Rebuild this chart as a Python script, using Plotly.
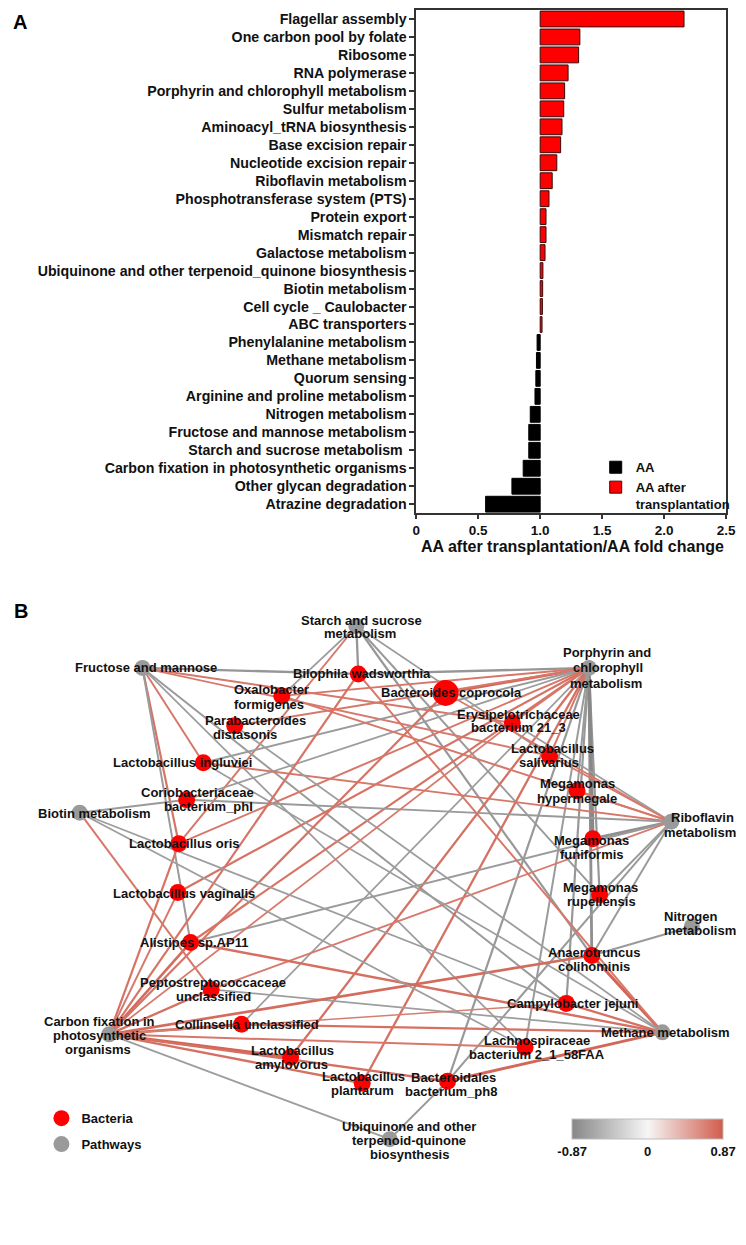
import plotly.graph_objects as go

# ---------------- Panel A data ----------------
categories = [
    "Flagellar assembly", "One carbon pool by folate", "Ribosome", "RNA polymerase",
    "Porphyrin and chlorophyll metabolism", "Sulfur metabolism", "Aminoacyl_tRNA biosynthesis",
    "Base excision repair", "Nucleotide excision repair", "Riboflavin metabolism",
    "Phosphotransferase system (PTS)", "Protein export", "Mismatch repair", "Galactose metabolism",
    "Ubiquinone and other terpenoid_quinone biosynthesis", "Biotin metabolism",
    "Cell cycle _ Caulobacter", "ABC transporters", "Phenylalanine metabolism",
    "Methane metabolism", "Quorum sensing", "Arginine and proline metabolism",
    "Nitrogen metabolism", "Fructose and mannose metabolism",
    "Starch and sucrose metabolism\u00a0", "Carbon fixation in photosynthetic organisms",
    "Other glycan degradation", "Atrazine degradation",
]
fold_change = [2.16, 1.32, 1.31, 1.225, 1.197, 1.19, 1.176, 1.165, 1.134, 1.097, 1.071,
               1.047, 1.047, 1.039, 1.022, 1.02, 1.018, 1.015, 0.975, 0.97, 0.965, 0.958,
               0.92, 0.908, 0.908, 0.863, 0.772, 0.56]
x_tickvals = [0, 0.5, 1.0, 1.5, 2.0, 2.5]
x_ticktext = ["0", "0.5", "1.0", "1.5", "2.0", "2.5"]

# ---------------- Panel B data ----------------
pathway_names = {
    "starch": "Starch and sucrose metabolism", "fruct": "Fructose and mannose",
    "porph": "Porphyrin and chlorophyll metabolism", "biotin": "Biotin metabolism",
    "ribo": "Riboflavin metabolism", "nitro": "Nitrogen metabolism",
    "carbon": "Carbon fixation in photosynthetic organisms", "methane": "Methane metabolism",
    "ubiq": "Ubiquinone and other terpenoid-quinone biosynthesis",
}
bacteria_names = {
    "bilo": "Bilophila wadsworthia", "bcop": "Bacteroides coprocola",
    "oxal": "Oxalobacter formigenes", "para": "Parabacteroides distasonis",
    "erys": "Erysipelotrichaceae bacterium 21_3", "lsal": "Lactobacillus salivarius",
    "ling": "Lactobacillus ingluviei", "mhyp": "Megamonas hypermegale",
    "corio": "Coriobacteriaceae bacterium_phI", "loris": "Lactobacillus oris",
    "mfun": "Megamonas funiformis", "lvag": "Lactobacillus vaginalis",
    "mrup": "Megamonas rupellensis", "alis": "Alistipes sp.AP11",
    "anae": "Anaerotruncus colihominis", "pept": "Peptostreptococcaceae unclassified",
    "camp": "Campylobacter jejuni", "coll": "Collinsella unclassified",
    "lamy": "Lactobacillus amylovorus", "lach": "Lachnospiraceae bacterium 2_1_58FAA",
    "lpla": "Lactobacillus plantarum", "bact": "Bacteroidales bacterium_ph8",
}
edge_pathway = [
    "starch", "starch", "starch", "starch", "starch", "starch",
    "fruct", "fruct", "fruct", "fruct", "fruct", "fruct", "fruct", "fruct",
    "porph", "porph", "porph", "porph", "porph", "porph", "porph", "porph", "porph", "porph",
    "porph", "porph", "porph", "porph", "porph", "porph", "porph", "porph", "porph", "porph", "porph",
    "ribo", "ribo", "ribo", "ribo", "ribo", "ribo", "ribo", "ribo", "ribo", "ribo", "ribo", "ribo", "ribo",
    "methane", "methane", "methane", "methane", "methane", "methane", "methane", "methane", "methane",
    "carbon", "carbon", "carbon", "carbon", "carbon", "carbon", "carbon", "carbon", "carbon",
    "carbon", "carbon", "carbon", "carbon", "carbon",
    "biotin", "biotin", "biotin", "biotin",
    "nitro", "ubiq", "ubiq",
]
edge_node = [
    "bilo", "oxal", "loris", "mrup", "anae", "lsal",
    "bilo", "erys", "lsal", "ling", "loris", "alis", "camp", "lach",
    "bilo", "bcop", "oxal", "para", "ling", "corio", "loris", "lvag", "alis", "coll",
    "lamy", "lpla", "bact", "lach", "camp", "anae", "mrup", "mfun", "erys", "lsal", "mhyp",
    "oxal", "ling", "corio", "bcop", "erys", "lsal", "mhyp", "mfun", "mrup", "anae", "alis", "pept", "bact",
    "anae", "camp", "bact", "coll", "pept", "para", "bilo", "alis", "ling",
    "loris", "lvag", "alis", "bilo", "bcop", "erys", "pept", "coll", "lamy",
    "lpla", "bact", "anae", "camp", "lach",
    "corio", "pept", "lach", "camp",
    "anae", "bact", "carbon",
]
edge_corr = [
    -0.75, -0.70, 0.72, -0.72, -0.74, -0.70,
    -0.75, 0.72, 0.70, 0.72, 0.74, -0.72, -0.72, -0.70,
    -0.75, 0.80, 0.72, 0.72, -0.72, -0.70, 0.72, 0.74, 0.74, -0.70,
    0.75, 0.75, -0.74, -0.72, -0.74, -0.80, -0.74, -0.86, 0.72, 0.72, -0.72,
    0.72, 0.72, -0.72, 0.70, -0.70, 0.70, 0.72, -0.80, -0.72, -0.72, -0.72, 0.70, -0.72,
    0.82, 0.75, 0.80, 0.75, -0.70, -0.70, 0.72, 0.76, -0.70,
    0.74, 0.72, 0.78, 0.74, 0.74, 0.70, 0.75, 0.78, 0.82,
    0.75, 0.75, 0.78, 0.68, 0.72,
    -0.72, 0.72, -0.70, -0.70,
    -0.72, -0.72, -0.70,
]
corr_min, corr_max = -0.87, 0.87

# ---------------- Layout (node positions / label placement, page px) ----------------
node_xy = {
    "starch": (359, 625), "fruct": (141, 667), "porph": (596, 667), "biotin": (77, 812),
    "ribo": (680, 821), "nitro": (701, 926), "carbon": (107, 1034), "methane": (671, 1032),
    "ubiq": (393, 1139),
    "bilo": (361, 673), "bcop": (450, 692), "oxal": (283, 695), "para": (235, 725),
    "erys": (518, 722), "lsal": (556, 755), "ling": (203, 762), "mhyp": (584, 790),
    "corio": (186, 799), "loris": (178, 843), "mfun": (600, 838), "lvag": (177, 892),
    "mrup": (607, 894), "alis": (190, 942), "anae": (599, 955), "pept": (211, 989),
    "camp": (573, 1003), "coll": (242, 1024), "lamy": (292, 1057), "lach": (531, 1047),
    "lpla": (365, 1083), "bact": (452, 1081),
}
label_lines = [
    ("Starch and sucrose", 364, 619), ("metabolism", 363, 633),
    ("Fructose and mannose", 145, 667),
    ("Porphyrin and", 614, 652), ("chlorophyll", 616, 667), ("metabolism", 613, 683),
    ("Biotin metabolism", 92, 813),
    ("Riboflavin", 712, 817), ("metabolism", 709, 832),
    ("Nitrogen", 700, 916), ("metabolism", 709, 930),
    ("Carbon fixation in", 97, 1021), ("photosynthetic", 97, 1035), ("organisms", 96, 1049),
    ("Methane metabolism", 674, 1032),
    ("Ubiquinone and other", 413, 1126), ("terpenoid-quinone", 413, 1140), ("biosynthesis", 413, 1154),
    ("Bilophila wadsworthia", 365, 673),
    ("Bacteroides coprocola", 456, 692),
    ("Oxalobacter", 273, 689), ("formigenes", 270, 704),
    ("Parabacteroides", 256, 720), ("distasonis", 245, 734),
    ("Erysipelotrichaceae", 524, 714), ("bacterium 21_3", 524, 727),
    ("Lactobacillus", 559, 748), ("salivarius", 555, 762),
    ("Lactobacillus ingluviei", 182, 762),
    ("Megamonas", 584, 783), ("hypermegale", 584, 798),
    ("Coriobacteriaceae", 197, 792), ("bacterium_phI", 208, 806),
    ("Lactobacillus oris", 184, 843),
    ("Megamonas", 599, 840), ("funiformis", 599, 854),
    ("Lactobacillus vaginalis", 183, 893),
    ("Megamonas", 608, 887), ("rupellensis", 609, 901),
    ("Alistipes sp.AP11", 194, 942),
    ("Anaerotruncus", 601, 952), ("colihominis", 601, 966),
    ("Peptostreptococcaceae", 213, 982), ("unclassified", 213, 996),
    ("Campylobacter jejuni", 579, 1003),
    ("Collinsella unclassified", 248, 1024),
    ("Lactobacillus", 294, 1050), ("amylovorus", 293, 1064),
    ("Lachnospiraceae", 543, 1040), ("bacterium 2_1_58FAA", 543, 1054),
    ("Lactobacillus", 366, 1076), ("plantarum", 365, 1090),
    ("Bacteroidales", 458, 1077), ("bacterium_ph8", 455, 1091),
]

# page has an 8px body margin: figure occupies page px 8..746 x 8..1237
OFF = 8
W, H = 746 - OFF, 1237 - OFF


def px(x):
    return (x - OFF) / W


def py(y):
    return 1 - (y - OFF) / H


FONT = "Liberation Sans, Arial, sans-serif"
RED_BAR = "#ff0000"
NODE_RED = "#ff0000"
NODE_GREY = "#9a9a9a"
cs_low, cs_mid, cs_high = (135, 135, 135), (246, 246, 246), (208, 92, 76)
colorscale = [[0, "rgb(%d,%d,%d)" % cs_low], [0.5, "rgb(%d,%d,%d)" % cs_mid],
              [1, "rgb(%d,%d,%d)" % cs_high]]


def corr_color(r):
    t = (r - corr_min) / (corr_max - corr_min)
    if t < 0.5:
        a, b, f = cs_low, cs_mid, t / 0.5
    else:
        a, b, f = cs_mid, cs_high, (t - 0.5) / 0.5
    return "rgb(%d,%d,%d)" % tuple(round(a[i] + (b[i] - a[i]) * f) for i in range(3))


fig = go.Figure()

# ---------------- Panel A bars ----------------
up_c = [c for c, v in zip(categories, fold_change) if v >= 1]
up_v = [v - 1 for v in fold_change if v >= 1]
dn_c = [c for c, v in zip(categories, fold_change) if v < 1]
dn_v = [v - 1 for v in fold_change if v < 1]

fig.add_trace(go.Bar(y=dn_c, x=dn_v, base=1, orientation="h", name="AA",
                     marker=dict(color="#000000", line=dict(color="#000000", width=1)),
                     width=0.88, xaxis="x", yaxis="y", legendrank=1, legend="legend"))
fig.add_trace(go.Bar(y=up_c, x=up_v, base=1, orientation="h", name="AA after<br>transplantation",
                     marker=dict(color=RED_BAR, line=dict(color="#3b0a0a", width=1)),
                     width=0.88, xaxis="x", yaxis="y", legendrank=2, legend="legend"))

# ---------------- Panel B edges ----------------
for p, b, r in zip(edge_pathway, edge_node, edge_corr):
    x0, y0 = node_xy[p]
    x1, y1 = node_xy[b]
    fig.add_trace(go.Scatter(
        x=[x0, x1], y=[y0, y1], mode="lines", xaxis="x2", yaxis="y2",
        line=dict(color=corr_color(r), width=1.2 + (abs(r) - 0.65) * 11),
        hoverinfo="skip", showlegend=False))

# ---------------- Panel B nodes ----------------
b_ids = list(bacteria_names.keys())
p_ids = list(pathway_names.keys())
fig.add_trace(go.Scatter(
    x=[node_xy[k][0] for k in b_ids], y=[node_xy[k][1] for k in b_ids],
    mode="markers", name="Bacteria", xaxis="x2", yaxis="y2",
    text=[bacteria_names[k] for k in b_ids], hoverinfo="text",
    marker=dict(color=NODE_RED, opacity=1, size=[26 if k == "bcop" else 17 for k in b_ids],
                line=dict(width=0)),
    legend="legend2", legendgroup="b"))
fig.add_trace(go.Scatter(
    x=[node_xy[k][0] for k in p_ids], y=[node_xy[k][1] for k in p_ids],
    mode="markers", name="Pathways", xaxis="x2", yaxis="y2",
    text=[pathway_names[k] for k in p_ids], hoverinfo="text",
    marker=dict(color=NODE_GREY, opacity=1, size=16, line=dict(width=0)),
    legend="legend2", legendgroup="p"))

# colour bar (dummy, off-range point)
fig.add_trace(go.Scatter(
    x=[-100], y=[-100], mode="markers", xaxis="x2", yaxis="y2", showlegend=False,
    hoverinfo="skip",
    marker=dict(color=[0], cmin=corr_min, cmax=corr_max, colorscale=colorscale, size=1,
                showscale=True,
                colorbar=dict(orientation="h", x=px(579), xanchor="left", len=154 / W,
                              lenmode="fraction", y=py(1119), yanchor="top",
                              thickness=20, xpad=0, ypad=0, outlinewidth=1,
                              outlinecolor="#bdbdbd", tickvals=[corr_min, 0, corr_max],
                              ticktext=["-0.87", "0", "0.87"], ticks="",
                              tickfont=dict(family=FONT, size=13, color="#111", weight="bold")))))

annotations = []
for txt, x, y in label_lines:
    annotations.append(dict(text=txt, x=x, y=y, xref="x2", yref="y2", showarrow=False,
                            xanchor="center", yanchor="middle",
                            font=dict(family=FONT, size=13, color="#111", weight="bold")))
annotations.append(dict(text="A", x=px(8), y=1, xref="paper", yref="paper",
                        showarrow=False, xanchor="left", yanchor="top", borderpad=0,
                        font=dict(family=FONT, size=20, color="#000", weight="bold")))
annotations.append(dict(text="B", x=px(8), y=py(610), xref="paper", yref="paper",
                        showarrow=False, xanchor="left", yanchor="middle",
                        font=dict(family=FONT, size=20, color="#000", weight="bold")))
annotations.append(dict(text="AA after transplantation/AA fold change", x=px(579), y=py(545),
                        xref="paper", yref="paper", showarrow=False,
                        xanchor="center", yanchor="middle",
                        font=dict(family=FONT, size=16, color="#111", weight="bold")))

axis_line = "#333333"
fig.update_layout(
    width=W, height=H, autosize=False,
    margin=dict(l=0, r=0, t=0, b=0),
    paper_bgcolor="white", plot_bgcolor="rgba(0,0,0,0)",
    barmode="overlay",
    font=dict(family=FONT, color="#111"),
    xaxis=dict(domain=[px(420), px(736)], range=[0, 2.5], tickvals=x_tickvals,
               ticktext=x_ticktext, showgrid=False, zeroline=False,
               showline=True, linecolor=axis_line, linewidth=1.5, mirror=True,
               ticks="outside", ticklen=4, tickwidth=1.5, tickcolor=axis_line,
               tickfont=dict(family=FONT, size=13.5, color="#111", weight="bold"),
               anchor="y", fixedrange=True),
    yaxis=dict(domain=[py(512), 1], type="category",
               categoryorder="array", categoryarray=categories, autorange="reversed",
               showgrid=False, zeroline=False, showline=True, linecolor=axis_line,
               linewidth=1.5, mirror=True, ticks="outside", ticklen=5, tickwidth=1.5,
               tickcolor=axis_line,
               tickfont=dict(family=FONT, size=14.2, color="#111", weight="bold"),
               anchor="x", fixedrange=True),
    xaxis2=dict(domain=[0, 1], range=[OFF, OFF + W], visible=False, anchor="y2", fixedrange=True),
    yaxis2=dict(domain=[0, 1], range=[OFF + H, OFF], visible=False, anchor="x2", fixedrange=True),
    legend=dict(x=px(603), y=py(451), xanchor="left", yanchor="top",
                bgcolor="rgba(0,0,0,0)", valign="top", tracegroupgap=0,
                font=dict(family=FONT, size=13, color="#111", weight="bold")),
    legend2=dict(x=px(38), y=py(1103), xanchor="left", yanchor="top",
                 bgcolor="rgba(0,0,0,0)", itemsizing="trace", traceorder="grouped",
                 tracegroupgap=6,
                 font=dict(family=FONT, size=13, color="#111", weight="bold")),
    annotations=annotations,
    showlegend=True,
)

fig.write_html("out.html")
